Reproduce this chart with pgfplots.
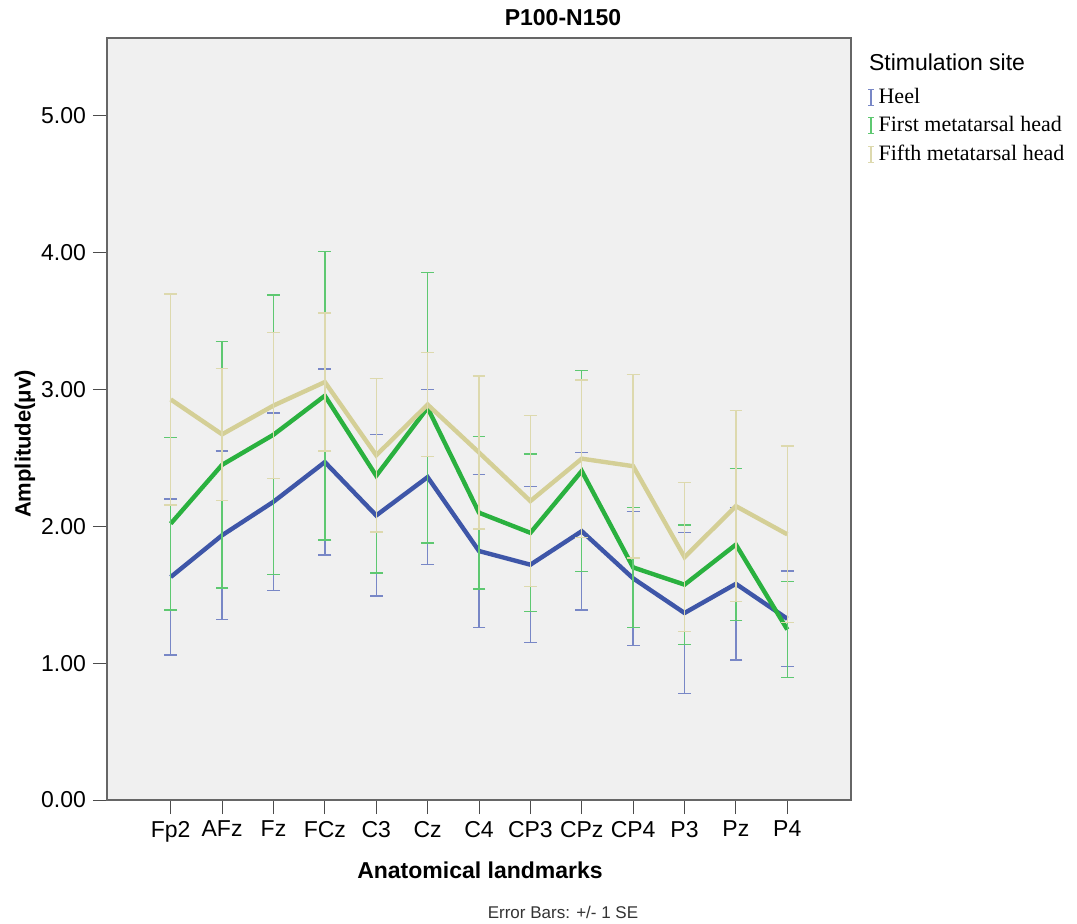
\documentclass[border=0pt]{standalone}
\usepackage{fontspec}
\setmainfont{Liberation Sans}
\newfontfamily\legendfont{Liberation Serif}
\usepackage{pgfplots}
\pgfplotsset{compat=1.18}

\definecolor{heel}{HTML}{3E56A8}
\definecolor{heelbar}{HTML}{7887C6}
\definecolor{first}{HTML}{2AB13F}
\definecolor{firstbar}{HTML}{5EC871}
\definecolor{fifth}{HTML}{D4CF96}
\definecolor{fifthbar}{HTML}{DDD9AE}
\definecolor{panel}{HTML}{F0F0F0}

% columns: position, mean amplitude, standard error
\pgfplotstableread{
x y e
0  1.630 0.570
1  1.935 0.615
2  2.180 0.650
3  2.470 0.680
4  2.080 0.590
5  2.360 0.640
6  1.820 0.560
7  1.720 0.570
8  1.965 0.575
9  1.620 0.490
10 1.367 0.587
11 1.580 0.557
12 1.325 0.350
}\heeldata

\pgfplotstableread{
x y e
0  2.020 0.630
1  2.450 0.900
2  2.670 1.020
3  2.955 1.055
4  2.370 0.710
5  2.867 0.987
6  2.100 0.557
7  1.953 0.577
8  2.405 0.735
9  1.700 0.440
10 1.574 0.436
11 1.867 0.557
12 1.246 0.350
}\firstdata

\pgfplotstableread{
x y e
0  2.928 0.772
1  2.673 0.483
2  2.883 0.533
3  3.055 0.505
4  2.520 0.560
5  2.890 0.380
6  2.540 0.560
7  2.185 0.625
8  2.495 0.575
9  2.440 0.670
10 1.775 0.545
11 2.148 0.698
12 1.942 0.646
}\fifthdata

\begin{document}
\begin{tikzpicture}
\useasboundingbox (0,0) rectangle (538.5pt,-462pt);
\begin{axis}[
  at={(53.5pt,-400pt)}, anchor=south west,
  scale only axis, width=372pt, height=381pt,
  xmin=-1.24, xmax=13.24, ymin=0, ymax=5.57,
  axis background/.style={fill=panel},
  axis line style={draw=black!60, line width=0.6pt},
  xtick={0,...,12},
  xticklabels={Fp2,AFz,Fz,FCz,C3,Cz,C4,CP3,CPz,CP4,P3,Pz,P4},
  ytick={0,1,2,3,4,5},
  xtick pos=left, ytick pos=left,
  tick align=outside, major tick length=7pt,
  tick style={black!70, line width=0.5pt},
  ticklabel style={font=\fontsize{11.5}{13}\selectfont},
  /pgf/number format/assume math mode=true,
  yticklabel style={/pgf/number format/.cd, fixed, fixed zerofill, precision=2},
  legend style={at={(axis description cs:1,1)}, anchor=north west,
    xshift=5pt, yshift=-21pt, draw=none, fill=none,
    font=\legendfont\fontsize{11}{13}\selectfont, row sep=1pt},
  legend cell align=left,
]
\addplot[heel, line width=2.2pt,
  legend image code/.code={\draw[heelbar, line width=0.6pt]
    (0pt,-4pt)--(0pt,4pt) (-1.5pt,4pt)--(1.5pt,4pt) (-1.5pt,-4pt)--(1.5pt,-4pt);},
  error bars/.cd, y dir=both, y explicit,
  error bar style={heelbar, line width=0.7pt},
  error mark=-, error mark options={heelbar, line width=0.7pt, rotate=90, mark size=3.2pt}]
  table[x=x, y=y, y error=e] {\heeldata};
\addlegendentry{Heel}
\addplot[first, line width=2.2pt,
  legend image code/.code={\draw[firstbar, line width=0.6pt]
    (0pt,-4pt)--(0pt,4pt) (-1.5pt,4pt)--(1.5pt,4pt) (-1.5pt,-4pt)--(1.5pt,-4pt);},
  error bars/.cd, y dir=both, y explicit,
  error bar style={firstbar, line width=0.7pt},
  error mark=-, error mark options={firstbar, line width=0.7pt, rotate=90, mark size=3.2pt}]
  table[x=x, y=y, y error=e] {\firstdata};
\addlegendentry{First metatarsal head}
\addplot[fifth, line width=2.2pt,
  legend image code/.code={\draw[fifthbar, line width=0.6pt]
    (0pt,-4pt)--(0pt,4pt) (-1.5pt,4pt)--(1.5pt,4pt) (-1.5pt,-4pt)--(1.5pt,-4pt);},
  error bars/.cd, y dir=both, y explicit,
  error bar style={fifthbar, line width=0.7pt},
  error mark=-, error mark options={fifthbar, line width=0.7pt, rotate=90, mark size=3.2pt}]
  table[x=x, y=y, y error=e] {\fifthdata};
\addlegendentry{Fifth metatarsal head}
\end{axis}
\node[font=\bfseries\fontsize{11.5}{13}\selectfont] at (281.5pt,-9pt) {P100-N150};
\node[font=\bfseries\fontsize{11.5}{13}\selectfont] at (240pt,-435pt) {Anatomical landmarks};
\node[font=\bfseries\fontsize{11}{13}\selectfont, rotate=90] at (12.5pt,-222pt) {Amplitude(μv)};
\node[font=\fontsize{8.5}{10}\selectfont, text=black!80] at (281.5pt,-456pt) {Error Bars: +/- 1 SE};
\node[font=\fontsize{11.5}{13}\selectfont, anchor=west] at (431pt,-31pt) {Stimulation site};
\end{tikzpicture}
\end{document}
